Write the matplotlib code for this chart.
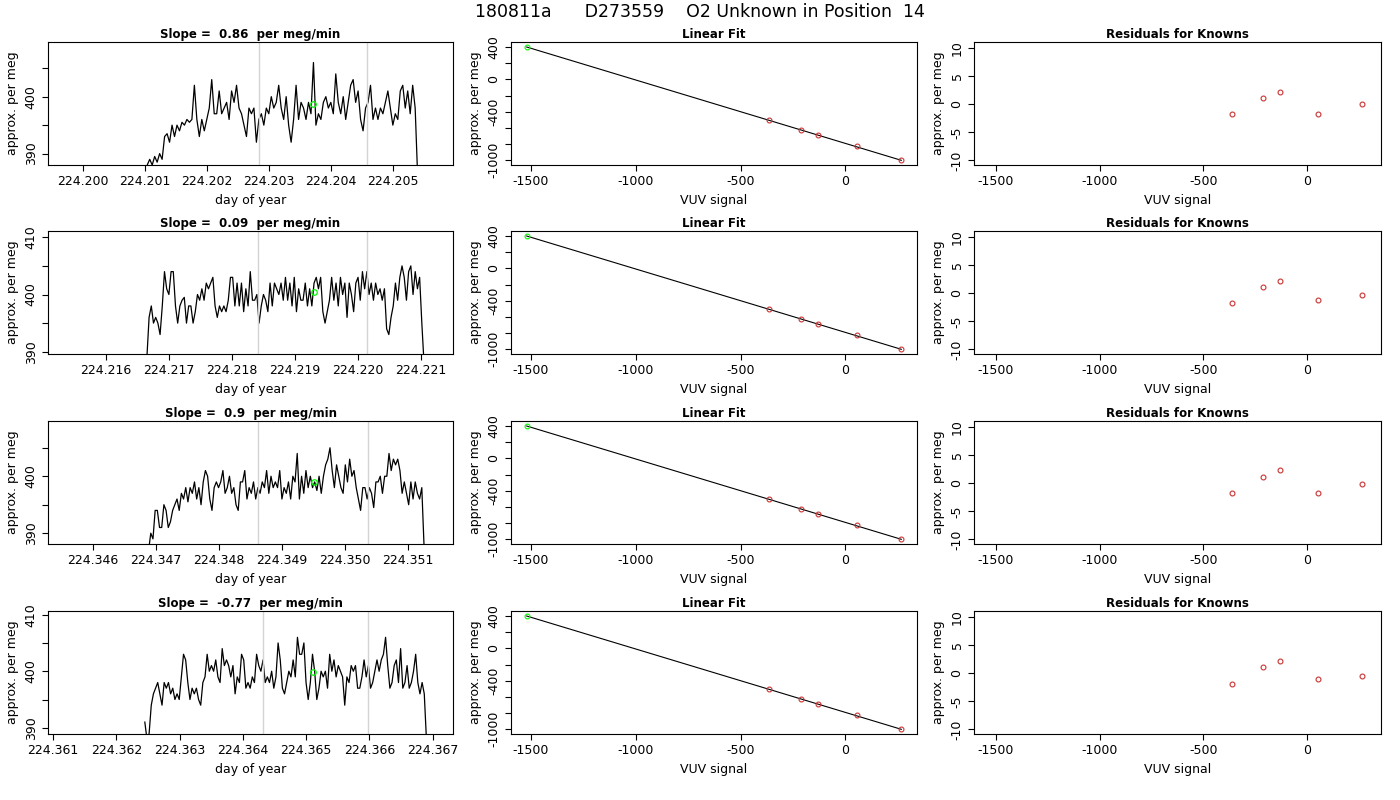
import numpy as np
import matplotlib.pyplot as plt

# --- time series panels (left column) ---
t_start = [224.2010, 224.21665, 224.34685, 224.36245]
t_end = [224.2054, 224.22105, 224.35125, 224.3669]
xlims = [(224.19944, 224.20597), (224.21508, 224.22151), (224.34529, 224.35171), (224.36092, 224.36732)]
ylims = [(388.0, 409.6), (389.6, 411.1), (388.1, 409.7), (388.9, 410.65)]
xticks = [[224.200, 224.201, 224.202, 224.203, 224.204, 224.205],
          [224.216, 224.217, 224.218, 224.219, 224.220, 224.221],
          [224.346, 224.347, 224.348, 224.349, 224.350, 224.351],
          [224.361, 224.362, 224.363, 224.364, 224.365, 224.366, 224.367]]
grey_lines = [(224.20284, 224.20459), (224.21841, 224.22015), (224.34862, 224.35037), (224.36432, 224.36598)]
green_pt = [(224.20371, 398.8), (224.21930, 400.4), (224.34950, 399.0), (224.36511, 399.8)]
slopes = ["0.86", "0.09", "0.9", "-0.77"]

series1 = [386, 388, 389, 388, 389.5, 388.5, 390, 389, 393, 393.5, 392, 395, 393, 395, 394, 395.5, 395, 396, 395.5, 396,
           402, 396, 393, 396, 394, 396, 398, 403, 397, 397, 401, 397, 398, 399, 396, 401, 399, 402, 398, 397, 395, 393,
           398, 397, 398, 392, 396, 397, 395, 398, 397, 400, 398, 399, 402, 398, 396, 400, 395, 392, 396, 402, 396, 399,
           398, 396, 399, 397, 406, 395, 397, 396, 399, 400, 398, 399, 397, 404, 399, 397, 400, 396, 399, 402, 403, 399,
           401, 396, 394, 398, 399, 402, 396, 398, 396, 398, 397, 399, 401, 398, 395, 397, 396, 401, 402, 398, 401, 397,
           402, 398, 386]
series2 = [389, 396, 398, 395, 396, 395, 393, 398, 404, 401, 400, 404, 404, 398, 395, 398, 399, 399.5, 395, 398, 398, 395,
           397, 400, 399, 401, 399, 402, 401, 402, 403, 398, 396, 398, 397, 398, 397, 399, 403, 403, 398, 402, 398, 402,
           397, 401, 398, 404, 399, 399, 400, 395, 398, 400, 399, 397, 402, 398, 402, 401, 400, 402, 399, 403, 399, 402,
           398, 403, 397, 401, 399, 399, 402, 398, 401, 398, 402, 403, 401, 403, 397, 395, 397, 399, 403, 399, 402, 398,
           403, 400, 402, 396, 402, 400, 397, 402, 403, 399, 404, 401, 404, 400, 402, 399, 402, 400, 401, 399, 401, 394,
           393, 396, 398, 402, 399, 403, 405, 403, 399, 404, 405, 400, 404, 401, 403, 395, 388]
series3 = [388, 387, 390, 389, 394, 394, 391, 391, 395, 394, 391, 392, 394, 395, 396, 394, 397, 396, 398, 395.5, 398, 397,
           399, 396, 398, 395, 399, 401, 400, 396, 394, 398, 399, 398, 399, 401, 397, 398, 400, 397, 398, 395, 394, 399,
           399, 401, 396, 398, 397, 399, 396, 398, 397, 399, 398, 401, 397, 400, 398, 399, 398, 401, 396, 398, 397, 399,
           396, 400, 399, 404, 396, 400, 397, 401, 398, 400, 398, 399, 397.5, 400, 397, 400, 402, 403, 405, 401, 398, 402,
           400, 398, 397, 402, 399, 403, 400, 401, 398, 396, 394, 398, 398, 396, 398, 397, 394.5, 399, 399, 400, 397, 400,
           400, 404, 401, 403, 402, 403, 401, 397, 399, 397, 395, 399, 396, 399, 397, 396, 398, 388]
series4 = [391, 388, 389, 394, 396, 397, 398, 396, 394, 398, 397, 398, 396, 397, 395, 396, 395, 399, 403, 402, 398, 395,
           397, 396, 397, 395, 394, 398, 399, 403, 400, 401, 400, 402, 399, 398, 404, 401, 402, 401, 399, 401, 396, 399,
           398, 403, 402, 397, 398, 397, 399, 398, 403, 401, 400, 402, 398, 399, 398, 400, 397, 399, 405, 402, 397, 396,
           398, 400, 399, 402, 399, 406, 403, 403, 405, 398, 395, 398, 403, 400, 395, 397, 400, 399, 400, 397, 403, 400,
           402, 399, 401, 400, 399, 394, 399, 398, 401, 400, 401, 397, 397, 399, 402, 399, 401, 397, 398, 400, 402, 400,
           402, 403, 406, 401, 397, 398, 401, 402, 398, 404, 397, 398, 401, 397, 398, 400, 403, 398, 396, 398, 396, 388]
series = [series1, series2, series3, series4]

# --- linear fit / residuals ---
unknown_x, unknown_y = -1520, 400
known_x = [-364, -210, -129, 54, 267]
known_y = [-496, -628, -690, -826, -1000]
residuals = [[-1.8, 1.1, 2.2, -1.7, 0.0],
             [-1.8, 1.0, 2.1, -1.2, -0.4],
             [-1.8, 1.1, 2.4, -1.7, -0.1],
             [-2.0, 1.0, 2.2, -1.1, -0.5]]

W, H = 1400, 800
fig = plt.figure(figsize=(14, 8), dpi=100)
plt.rcParams['font.family'] = 'DejaVu Sans'
fig.text(0.5, 1 - 12 / H, "180811a      D273559    O2 Unknown in Position  14",
         ha='center', va='center', fontsize=12.5)

rows_top = [42, 231, 421, 611]
row_h = 123
cols = [(48, 453), (511, 917), (974, 1381)]


def mkax(c, r):
    x0, x1 = cols[c]
    y0 = rows_top[r]
    ax = fig.add_axes([x0 / W, 1 - (y0 + row_h) / H, (x1 - x0) / W, row_h / H])
    ax.tick_params(labelsize=9, direction='out', length=4)
    return ax


for r in range(4):
    # time series
    ax = mkax(0, r)
    t = np.linspace(t_start[r], t_end[r], len(series[r]))
    ax.plot(t, series[r], color='black', lw=0.9)
    for g in grey_lines[r]:
        ax.axvline(g, color='lightgrey', lw=1)
    ax.plot(*green_pt[r], 'o', mfc='none', mec='#00ff00', ms=4, mew=0.9)
    ax.set_xlim(*xlims[r])
    ax.set_ylim(*ylims[r])
    ax.set_xticks(xticks[r])
    ax.set_xticklabels([f"{v:.3f}" for v in xticks[r]])
    yt = [v for v in [390, 395, 400, 405, 410] if ylims[r][0] <= v <= ylims[r][1]]
    ax.set_yticks(yt)
    ax.set_yticklabels([str(v) if v % 10 == 0 else "" for v in yt], rotation=90, va='center')
    ax.set_xlabel("day of year", fontsize=9)
    ax.set_ylabel("approx. per meg", fontsize=9)
    ax.set_title(f"Slope =  {slopes[r]}  per meg/min", fontsize=8.5, fontweight='bold', pad=3)

    # linear fit
    ax = mkax(1, r)
    ax.plot([unknown_x, known_x[-1]], [unknown_y, known_y[-1]], color='black', lw=0.8)
    ax.plot(known_x, known_y, 'o', mfc='none', mec='#cc3333', ms=3.5, mew=0.8)
    ax.plot(unknown_x, unknown_y, 'o', mfc='none', mec='#00ff00', ms=3.5, mew=0.8)
    ax.set_xlim(-1595, 342)
    ax.set_ylim(-1058, 462)
    ax.set_xticks([-1500, -1000, -500, 0])
    ax.set_xticklabels(["-1500", "-1000", "-500", "0"])
    ax.set_yticks([400, 200, 0, -200, -400, -600, -800, -1000])
    ax.set_yticklabels(["400", "", "0", "", "-400", "", "", "-1000"], rotation=90, va='center')
    ax.set_xlabel("VUV signal", fontsize=9)
    ax.set_ylabel("approx. per meg", fontsize=9)
    ax.set_title("Linear Fit", fontsize=8.5, fontweight='bold', pad=3)

    # residuals
    ax = mkax(2, r)
    ax.plot(known_x, residuals[r], 'o', mfc='none', mec='#cc3333', ms=3.5, mew=0.8)
    ax.set_xlim(-1606, 357)
    ax.set_ylim(-10.8, 11.0)
    ax.set_xticks([-1500, -1000, -500, 0])
    ax.set_xticklabels(["-1500", "-1000", "-500", "0"])
    ax.set_yticks([-10, -5, 0, 5, 10])
    ax.set_yticklabels(["-10", "-5", "0", "5", "10"], rotation=90, va='center')
    ax.set_xlabel("VUV signal", fontsize=9)
    ax.set_ylabel("approx. per meg", fontsize=9)
    ax.set_title("Residuals for Knowns", fontsize=8.5, fontweight='bold', pad=3)

fig.savefig("out.png", dpi=100)
